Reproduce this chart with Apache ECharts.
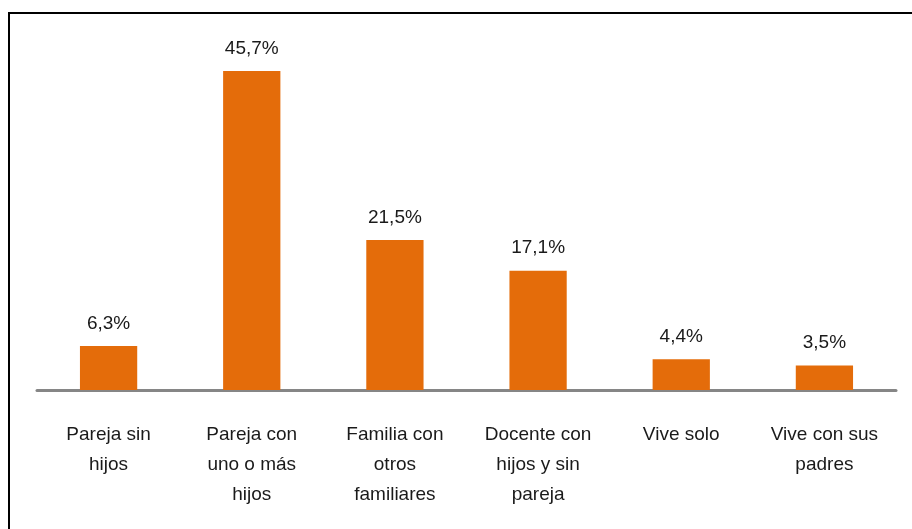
<!DOCTYPE html>
<html>
<head>
<meta charset="utf-8">
<title>Hogar</title>
<script src="https://cdn.jsdelivr.net/npm/echarts@6/dist/echarts.min.js"></script>
<style>
  html, body { margin: 0; padding: 0; background: #fff; }
  #main { width: 912px; height: 529px; }
</style>
</head>
<body>
<div id="main"></div>
<script>
var categories = ['Pareja sin\nhijos', 'Pareja con\nuno o más\nhijos', 'Familia con\notros\nfamiliares',
                  'Docente con\nhijos y sin\npareja', 'Vive solo', 'Vive con sus\npadres'];
var values = [6.3, 45.7, 21.5, 17.1, 4.4, 3.5];

var chart = echarts.init(document.getElementById('main'));
var font = '"Liberation Sans Narrow", "Arial Narrow", "Liberation Sans", sans-serif';

chart.setOption({
  animation: false,
  backgroundColor: '#fff',
  graphic: [{
    type: 'rect',
    shape: { x: 9, y: 13, width: 1000, height: 1000 },
    style: { fill: 'none', stroke: '#000', lineWidth: 2 },
    silent: true
  }],
  grid: { left: 37, right: 16, top: 41, bottom: 139 },
  xAxis: {
    type: 'category',
    data: categories,
    axisLine: { lineStyle: { color: '#868686', width: 3 } },
    axisTick: { show: false },
    axisLabel: {
      interval: 0,
      margin: 30,
      color: '#1a1a1a',
      fontFamily: font,
      fontSize: 19,
      lineHeight: 30
    }
  },
  yAxis: {
    type: 'value',
    min: 0,
    max: 50,
    show: false
  },
  series: [{
    type: 'bar',
    data: values,
    barWidth: '40%',
    itemStyle: { color: '#E46C0A' },
    label: {
      show: true,
      position: 'top',
      distance: 13,
      color: '#1a1a1a',
      fontFamily: font,
      fontSize: 19,
      formatter: function (p) { return p.value.toFixed(1).replace('.', ',') + '%'; }
    }
  }]
});
</script>
</body>
</html>
